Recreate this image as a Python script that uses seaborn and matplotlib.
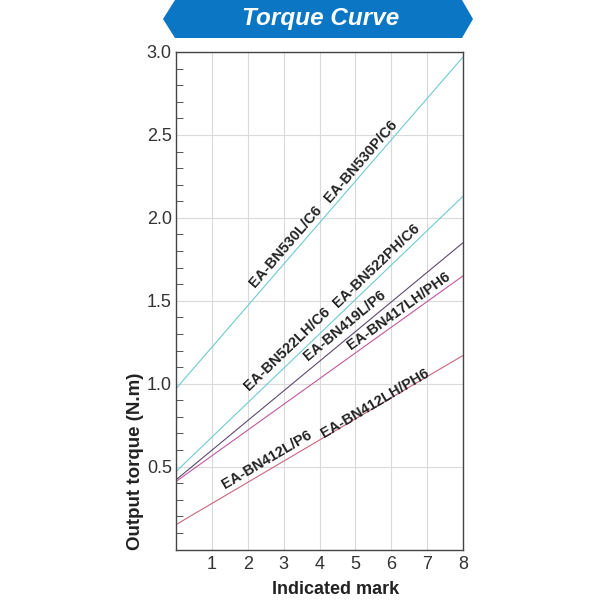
import numpy as np
import pandas as pd
import seaborn as sns
from matplotlib import pyplot as plt
from matplotlib.patches import Polygon
from matplotlib.ticker import MultipleLocator

# Data (indicated mark -> output torque N.m)
marks = [0, 8]
bn530 = [0.97, 2.97]
bn522 = [0.47, 2.13]
bn419 = [0.42, 1.85]
bn417 = [0.41, 1.65]
bn412 = [0.15, 1.17]

series_names = ["BN530", "BN522", "BN419", "BN417", "BN412"]
series_colors = ["#6fcad3", "#6fcad3", "#5e4a72", "#c3579e", "#c8667e"]

# label text, anchor position, series it follows
label_texts = ["EA-BN530L/C6", "EA-BN530P/C6", "EA-BN522LH/C6", "EA-BN522PH/C6",
               "EA-BN419L/P6", "EA-BN417LH/PH6", "EA-BN412L/P6", "EA-BN412LH/PH6"]
label_x = [3.06, 5.15, 3.09, 5.6, 4.7, 6.2, 2.53, 5.54]
label_y = [1.83, 2.34, 1.21, 1.71, 1.35, 1.44, 0.54, 0.88]
label_series = ["BN530", "BN530", "BN522", "BN522", "BN419", "BN417", "BN412", "BN412"]

df = pd.DataFrame({
    "mark": marks * 5,
    "torque": bn530 + bn522 + bn419 + bn417 + bn412,
    "series": [s for s in series_names for _ in marks],
})

sns.set_style("whitegrid")
plt.rcParams['font.family'] = ['Liberation Sans', 'DejaVu Sans']

fig = plt.figure(figsize=(6, 6), dpi=100)
ax = fig.add_axes([176 / 600, 1 - 549.5 / 600, (463 - 176) / 600, (549.5 - 52) / 600])

sns.lineplot(data=df, x="mark", y="torque", hue="series", palette=series_colors,
             hue_order=series_names, lw=0.8, legend=False, ax=ax)

ax.set_xlim(0, 8)
ax.set_ylim(0, 3.0)
ax.set_xticks(range(1, 9))
ax.set_yticks([0.5, 1.0, 1.5, 2.0, 2.5, 3.0])
ax.set_yticklabels(["0.5", "1.0", "1.5", "2.0", "2.5", "3.0"])
ax.yaxis.set_minor_locator(MultipleLocator(0.1))
ax.tick_params(axis='both', which='major', length=0, labelsize=13,
               labelcolor='#333333', pad=3)
ax.tick_params(axis='x', which='major', pad=5)
ax.tick_params(axis='y', which='minor', left=True, direction='in', length=5,
               width=0.7, color='#555555')
ax.grid(True, which='major', color='#dadada', lw=0.8)
ax.grid(False, which='minor')
for sp in ax.spines.values():
    sp.set_color('#444444')
    sp.set_linewidth(1.0)

ax.set_xlabel("Indicated mark", fontsize=13, fontweight='bold', color='#222222')
ax.xaxis.set_label_coords(0.557, -0.064)
ax.set_ylabel("Output torque (N.m)", fontsize=13.5, fontweight='bold', color='#222222')
ax.yaxis.set_label_coords(-0.112, 0.0)
ax.yaxis.label.set_va('bottom')
ax.yaxis.label.set_ha('left')

# Labels along the lines, rotated to follow each line on screen
slopes = {}
for name, ys in zip(series_names, [bn530, bn522, bn419, bn417, bn412]):
    slopes[name] = (ys[1] - ys[0]) / (marks[1] - marks[0])
for txt, x, y, s in zip(label_texts, label_x, label_y, label_series):
    ang = np.degrees(np.arctan(slopes[s]))
    rot = ax.transData.transform_angles(np.array([ang]), np.array([[x, y]]))[0]
    ax.text(x, y, txt, rotation=rot, rotation_mode='anchor', ha='center', va='center',
            fontsize=10.5, fontweight='bold', color='#222222')

# Title banner
banner = Polygon(np.array([[163, 19], [175, 0], [462, 0], [473, 19], [462, 38], [175, 38]])
                 / 600 * np.array([1, -1]) + np.array([0, 1]),
                 closed=True, transform=fig.transFigure, facecolor='#0b76c4',
                 edgecolor='none')
fig.patches.append(banner)
fig.text(321 / 600, 1 - 19 / 600, "Torque Curve", ha='center', va='center', color='white',
         fontsize=17.5, fontweight='bold', fontstyle='italic')

fig.savefig("out.png", dpi=100)
